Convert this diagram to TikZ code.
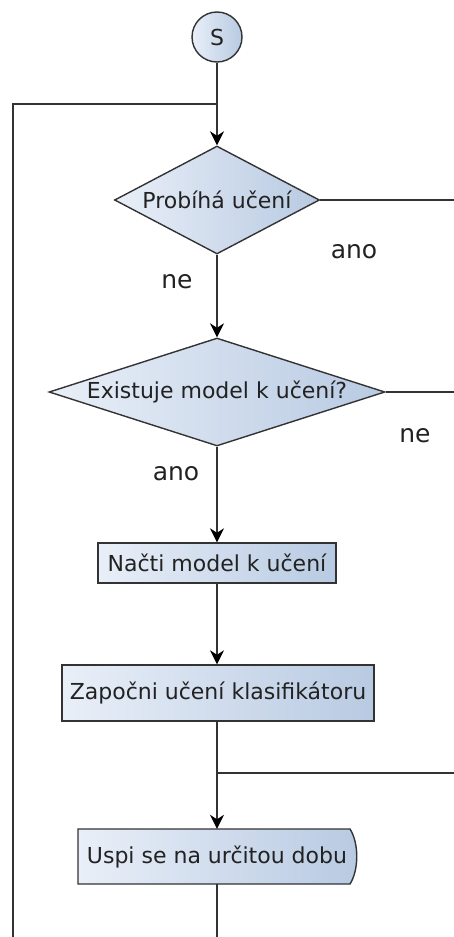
\documentclass[tikz,border=0pt]{standalone}
\usepackage{fontspec}
\setmainfont{DejaVu Sans}
\usetikzlibrary{shapes.geometric,arrows.meta,backgrounds}

\definecolor{boxleft}{HTML}{E9EFF8}
\definecolor{boxright}{HTML}{B8CAE2}
\definecolor{edge}{HTML}{333333}
\definecolor{ink}{HTML}{222222}

\tikzset{
  every node/.style={text=ink, font=\fontsize{22}{25}\selectfont},
  boxfill/.style={left color=boxleft, right color=boxright, draw=edge, line width=1.4pt},
  startnode/.style={circle, boxfill, minimum size=50pt, inner sep=0pt},
  decision/.style={diamond, boxfill, inner sep=0pt},
  process/.style={rectangle, boxfill, inner sep=0pt},
  answer/.style={anchor=base, inner sep=0pt, font=\fontsize{25}{28}\selectfont},
  flow/.style={draw=edge, line width=1.4pt},
  arrowflow/.style={flow, -{Stealth[length=14pt,width=14pt,inset=4.5pt,color=black]}},
}

\begin{document}
\begin{tikzpicture}[x=1pt, y=-1pt]
  \useasboundingbox (0,0) rectangle (454,937);

  % start
  \node[startnode] (s) at (217,37) {S};

  % decisions
  \node[decision, minimum width=205pt, minimum height=108pt, aspect=1.9] (d1) at (217,200) {Probíhá učení};
  \node[decision, minimum width=336pt, minimum height=108pt, aspect=3.1] (d2) at (217,392) {Existuje model k učení?};

  % processes
  \node[process, minimum width=238pt, minimum height=40pt] (load) at (217,563) {Načti model k učení};
  \node[process, minimum width=312pt, minimum height=56pt] (train) at (218,693) {Započni učení klasifikátoru};
  \node[inner sep=0pt, minimum width=272pt, minimum height=55pt] (sleep) at (217,856.5) {Uspi se na určitou dobu};
  \begin{scope}[on background layer]
    \path[boxfill] (78,829) -- (350,829)
      .. controls (359,843) and (359,870) .. (350,884)
      -- (78,884) -- cycle;
  \end{scope}

  % free ends of connectors
  \coordinate (loopbot) at (13,937);
  \coordinate (loopjoin) at (217,104);
  \coordinate (d1out) at (454,200);
  \coordinate (d2out) at (454,392);
  \coordinate (backjoin) at (217,773);
  \coordinate (backout) at (454,773);
  \coordinate (sleepout) at (217,937);

  % connectors
  \draw[arrowflow] (s) -- (d1);
  \draw[flow] (loopbot) |- (loopjoin);
  \draw[flow] (d1.east) -- (d1out);
  \draw[arrowflow] (d1.south) -- (d2.north);
  \draw[flow] (d2.east) -- (d2out);
  \draw[arrowflow] (d2.south) -- (load.north);
  \draw[arrowflow] (load.south) -- (train.north -| load.south);
  \draw[arrowflow] (train.south -| sleep.north) -- (sleep.north);
  \draw[flow] (backjoin) -- (backout);
  \draw[flow] (sleep.south) -- (sleepout);

  % branch labels
  \node[answer] (l1) at (354,258) {ano};
  \node[answer] (l2) at (177,288) {ne};
  \node[answer] (l3) at (415,442) {ne};
  \node[answer] (l4) at (176,480) {ano};
\end{tikzpicture}
\end{document}
